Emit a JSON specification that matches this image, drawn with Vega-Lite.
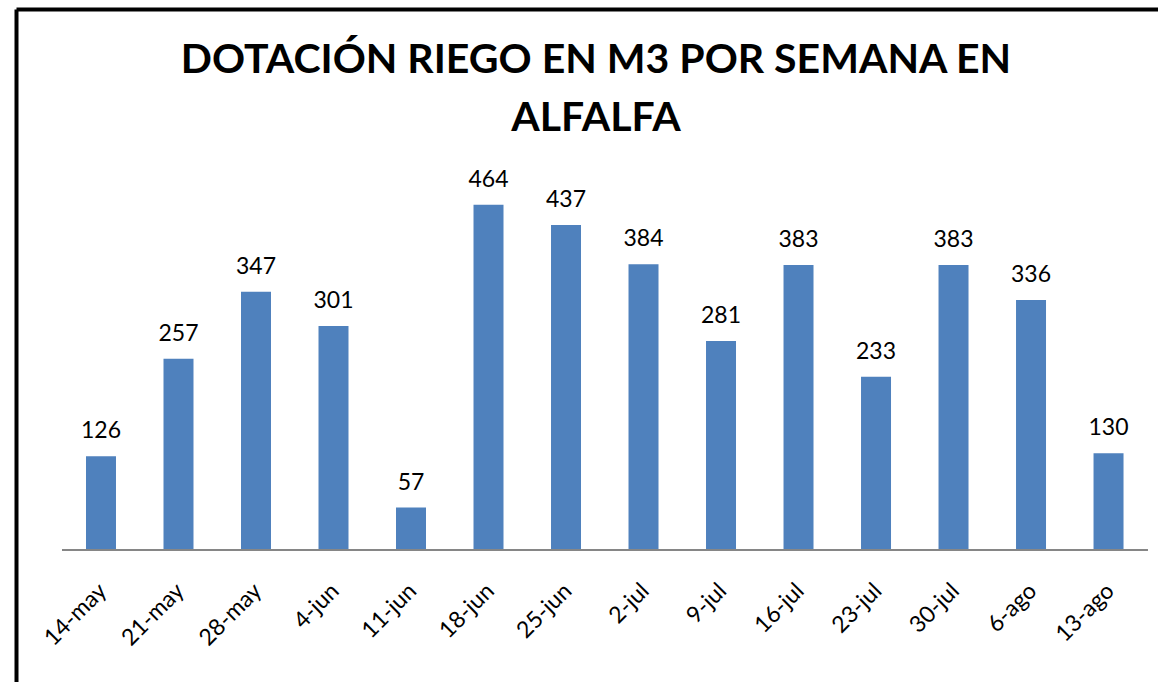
{
  "$schema": "https://vega.github.io/schema/vega-lite/v6.json",
  "autosize": {"type": "none"},
  "padding": {"left": 16, "top": 9, "right": 0, "bottom": 0},
  "width": 1142,
  "height": 673,
  "background": "white",
  "config": {"view": {"stroke": null}, "font": "Lato"},
  "title": {
    "text": ["DOTACIÓN RIEGO EN M3 POR SEMANA EN", "ALFALFA"],
    "font": "Lato",
    "fontSize": 41,
    "fontWeight": "bold",
    "color": "black",
    "lineHeight": 58,
    "anchor": "middle",
    "dx": 9,
    "offset": -131
  },
  "data": {
    "values": [
      {"semana": "14-may", "m3": 126},
      {"semana": "21-may", "m3": 257},
      {"semana": "28-may", "m3": 347},
      {"semana": "4-jun", "m3": 301},
      {"semana": "11-jun", "m3": 57},
      {"semana": "18-jun", "m3": 464},
      {"semana": "25-jun", "m3": 437},
      {"semana": "2-jul", "m3": 384},
      {"semana": "9-jul", "m3": 281},
      {"semana": "16-jul", "m3": 383},
      {"semana": "23-jul", "m3": 233},
      {"semana": "30-jul", "m3": 383},
      {"semana": "6-ago", "m3": 336},
      {"semana": "13-ago", "m3": 130}
    ]
  },
  "resolve": {"axis": {"x": "independent"}},
  "layer": [
    {
      "mark": {"type": "bar", "color": "#4F81BD"},
      "encoding": {
        "x": {
          "field": "semana",
          "type": "ordinal",
          "sort": null,
          "scale": {"paddingInner": 0.613, "paddingOuter": 0.674, "align": 0.67, "round": false},
          "axis": {
            "orient": "bottom",
            "offset": -132,
            "title": null,
            "domain": false,
            "ticks": false,
            "labelAngle": -45,
            "labelAlign": "right",
            "labelBaseline": "middle",
            "labelFont": "Lato",
            "labelFontSize": 23,
            "labelColor": "black",
            "labelPadding": 37,
            "labelOffset": 2
          }
        },
        "y": {
          "field": "m3",
          "type": "quantitative",
          "scale": {"domain": [-177.4, 727.2], "nice": false, "zero": false},
          "axis": {
            "orient": "left",
            "title": null,
            "labels": false,
            "ticks": false,
            "grid": false,
            "domain": true,
            "domainColor": "black",
            "domainWidth": 4
          }
        }
      }
    },
    {
      "mark": {"type": "rule", "color": "#868686", "strokeWidth": 2},
      "encoding": {
        "x": {"datum": "14-may", "bandPosition": -0.79, "axis": null},
        "x2": {"datum": "13-ago", "bandPosition": 1.79},
        "y": {"datum": 0}
      }
    },
    {
      "mark": {"type": "text", "font": "Lato", "fontSize": 23, "color": "black", "baseline": "alphabetic", "dy": -18},
      "encoding": {
        "x": {
          "field": "semana",
          "type": "ordinal",
          "sort": null,
          "axis": {
            "orient": "top",
            "title": null,
            "labels": false,
            "ticks": false,
            "domain": true,
            "domainColor": "black",
            "domainWidth": 4
          }
        },
        "y": {"field": "m3", "type": "quantitative"},
        "text": {"field": "m3", "type": "quantitative"}
      }
    }
  ]
}
